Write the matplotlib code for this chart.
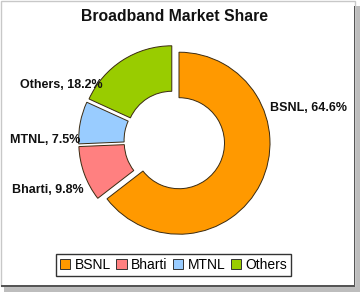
import matplotlib
matplotlib.use("Agg")
import matplotlib.pyplot as plt
from matplotlib.patches import Rectangle, Patch

categories = ["BSNL", "Bharti", "MTNL", "Others"]
shares = [64.6, 9.8, 7.5, 18.2]
colors = ["#FF9900", "#FF8080", "#99CCFF", "#99CC00"]
title = "Broadband Market Share"

plt.rcParams['font.family'] = ['Liberation Sans', 'DejaVu Sans']

W, H = 360, 292
fig = plt.figure(figsize=(W / 100, H / 100), dpi=100)
fig.patch.set_facecolor("white")

# frame with shadow
def frame_rect(x, y, w, h, **kw):
    fig.patches.append(Rectangle((x / W, y / H), w / W, h / H, transform=fig.transFigure,
                                 zorder=-5, **kw))

frame_rect(355, 0, 5, 286, facecolor="#bdbdbd", edgecolor="none")
frame_rect(4, 0, 356, 6, facecolor="#bdbdbd", edgecolor="none")
frame_rect(0.5, 6.5, 354, 285, facecolor="white", edgecolor="#c8c8c8", linewidth=1)
frame_rect(353.5, 6, 1.5, 280, facecolor="#555555", edgecolor="none")
frame_rect(1, 5.5, 354, 1.5, facecolor="#555555", edgecolor="none")

scale = 91.0
cx, cy = 174.5, 151  # pixel center from bottom-left
ax = fig.add_axes([0, 0, 1, 1])
ax.patch.set_alpha(0)

labels = [f"{c}, {s}%" for c, s in zip(categories, shares)]
wedges, texts = ax.pie(shares, colors=colors, startangle=90, counterclock=False,
                       explode=[0.055] * len(shares), radius=1.0,
                       labels=labels, labeldistance=1.1,
                       wedgeprops=dict(width=0.5, edgecolor="#3a2a10", linewidth=0.7),
                       textprops=dict(fontsize=9, fontweight="bold", color="#111111"))

# label placement (pixel offsets from pie centre), like the original chart
label_layout = [(95.5, 33, "left"), (-90.5, -49, "right"), (-94.5, 1, "right"), (-71.5, 56, "right")]
for t, (dx, dy, ha) in zip(texts, label_layout):
    t.set_position((dx / scale, dy / scale))
    t.set_ha(ha)
    t.set_va("center")

ax.set_aspect("auto")
ax.set_xlim(-cx / scale, (W - cx) / scale)
ax.set_ylim(-cy / scale, (H - cy) / scale)
ax.axis("off")

fig.text(174.5 / W, 1 - 16.5 / H, title, ha="center", va="center", fontsize=11.3,
         fontweight="bold", color="#111111")

handles = [Patch(facecolor=c, edgecolor="#333333", linewidth=0.7) for c in colors]
leg = fig.legend(handles, categories, loc="center", bbox_to_anchor=(173.5 / W, 1 - 265 / H),
                 ncol=4, frameon=True, fontsize=10, handlelength=0.75, handleheight=0.75,
                 handletextpad=0.3, columnspacing=0.4, borderpad=0.3, fancybox=False,
                 borderaxespad=0)
leg.get_frame().set_edgecolor("black")
leg.get_frame().set_linewidth(1.0)

fig.savefig("out.png", dpi=100, facecolor="white")
